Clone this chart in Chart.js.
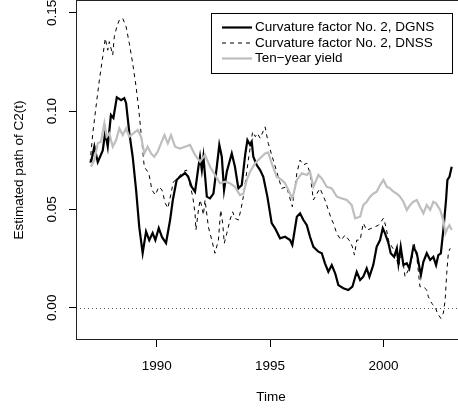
<!DOCTYPE html>
<html>
<head>
<meta charset="utf-8">
<script src="https://cdn.jsdelivr.net/npm/chart.js@4.4.1/dist/chart.umd.min.js"></script>
<style>
    html, body { margin: 0; padding: 0; background: #fff; overflow: hidden; }
    #wrap { width: 458px; height: 410px; overflow: hidden; }
</style>
</head>
<body>
<div id="wrap"><canvas id="c2Chart" width="470" height="410"></canvas></div>
<script>
// tick positions
const xTicks = [1990, 1995, 2000];
const yTicks = [0, 0.05, 0.10, 0.15];
const zeroLevel = 0;

const seriesNames = ['Curvature factor No. 2, DGNS', 'Curvature factor No. 2, DNSS', 'Ten\u2212year yield'];

// curvature factor, DGNS
const dgnsTime = [1987.10, 1987.25, 1987.40, 1987.62, 1987.73, 1987.84, 1987.98, 1988.09, 1988.24, 1988.43,
    1988.57, 1988.65, 1988.79, 1988.94, 1989.09, 1989.23, 1989.38, 1989.53, 1989.67, 1989.82,
    1989.94, 1990.09, 1990.23, 1990.41, 1990.59, 1990.71, 1990.88, 1991.03, 1991.25, 1991.39,
    1991.54, 1991.69, 1991.84, 1991.91, 1991.99, 1992.06, 1992.21, 1992.35, 1992.50, 1992.65,
    1992.76, 1992.87, 1992.97, 1993.09, 1993.31, 1993.45, 1993.60, 1993.75, 1993.90, 1994.00,
    1994.12, 1994.19, 1994.26, 1994.41, 1994.56, 1994.70, 1994.88, 1995.07, 1995.22, 1995.44,
    1995.66, 1995.88, 1995.98, 1996.18, 1996.32, 1996.47, 1996.62, 1996.76, 1996.91, 1997.13,
    1997.28, 1997.42, 1997.57, 1997.72, 1997.87, 1998.01, 1998.23, 1998.45, 1998.63, 1998.82,
    1998.97, 1999.11, 1999.26, 1999.38, 1999.55, 1999.70, 1999.85, 1999.97, 2000.07, 2000.22,
    2000.32, 2000.47, 2000.59, 2000.66, 2000.76, 2000.88, 2001.03, 2001.14, 2001.32, 2001.47,
    2001.65, 2001.76, 2001.91, 2002.06, 2002.20, 2002.32, 2002.42, 2002.53, 2002.64, 2002.76,
    2002.82, 2002.91, 2003.01];
const dgnsValue = [0.074, 0.082, 0.074, 0.080, 0.0895, 0.082, 0.098, 0.0965, 0.107, 0.1056,
    0.1066, 0.104, 0.089, 0.0768, 0.060, 0.041, 0.0278, 0.0387, 0.0344, 0.038,
    0.0344, 0.0405, 0.036, 0.0329, 0.0446, 0.0548, 0.065, 0.0666, 0.0685, 0.0666,
    0.0615, 0.059, 0.0717, 0.0768, 0.070, 0.0768, 0.0565, 0.0556, 0.058, 0.0717,
    0.0828, 0.0768, 0.0599, 0.0692, 0.0785, 0.0717, 0.0607, 0.0624, 0.0777, 0.0853,
    0.0828, 0.0844, 0.0768, 0.0726, 0.070, 0.0666, 0.0565, 0.043, 0.0404, 0.0353,
    0.0361, 0.0344, 0.0319, 0.0463, 0.048, 0.0446, 0.042, 0.0361, 0.031, 0.0285,
    0.0277, 0.0226, 0.0183, 0.0217, 0.0175, 0.0115, 0.0099, 0.009, 0.0107, 0.0183,
    0.0141, 0.0158, 0.020, 0.0158, 0.0217, 0.031, 0.0344, 0.0404, 0.0378, 0.0328,
    0.0277, 0.0259, 0.0302, 0.0226, 0.031, 0.0217, 0.0226, 0.020, 0.031, 0.0277,
    0.0166, 0.0234, 0.0277, 0.0243, 0.0259, 0.0217, 0.0268, 0.0277, 0.0395, 0.0548,
    0.065, 0.0666, 0.0717];

// curvature factor, DNSS
const dnssTime = [1987.06, 1987.18, 1987.32, 1987.47, 1987.62, 1987.73, 1987.84, 1987.91, 1988.06, 1988.13,
    1988.24, 1988.35, 1988.50, 1988.65, 1988.79, 1988.94, 1989.09, 1989.21, 1989.31, 1989.45,
    1989.65, 1989.79, 1989.94, 1990.09, 1990.23, 1990.38, 1990.49, 1990.63, 1990.73, 1990.85,
    1991.17, 1991.32, 1991.47, 1991.59, 1991.69, 1991.73, 1991.84, 1991.91, 1991.99, 1992.06,
    1992.13, 1992.28, 1992.43, 1992.57, 1992.72, 1992.82, 1992.91, 1992.98, 1993.09, 1993.23,
    1993.35, 1993.45, 1993.60, 1993.71, 1993.82, 1993.94, 1994.04, 1994.15, 1994.23, 1994.35,
    1994.44, 1994.56, 1994.78, 1994.92, 1995.14, 1995.36, 1995.51, 1995.73, 1995.98, 1996.18,
    1996.32, 1996.47, 1996.62, 1996.76, 1996.91, 1997.06, 1997.20, 1997.42, 1997.57, 1997.69,
    1997.79, 1997.94, 1998.13, 1998.31, 1998.53, 1998.63, 1998.72, 1998.82, 1998.97, 1999.11,
    1999.26, 1999.48, 1999.63, 1999.78, 2000.00, 2000.11, 2000.22, 2000.37, 2000.51, 2000.66,
    2000.81, 2000.95, 2001.10, 2001.25, 2001.35, 2001.47, 2001.61, 2001.76, 2001.91, 2001.98,
    2002.13, 2002.28, 2002.38, 2002.53, 2002.64, 2002.72, 2002.79, 2002.86, 2002.94];
const dnssValue = [0.0736, 0.0887, 0.102, 0.1158, 0.1277, 0.137, 0.131, 0.1353, 0.1285, 0.1378,
    0.1429, 0.1463, 0.1472, 0.1429, 0.1345, 0.1243, 0.1124, 0.1006, 0.0887, 0.0717,
    0.0684, 0.0599, 0.0573, 0.0615, 0.0599, 0.0531, 0.0506, 0.058, 0.064, 0.065,
    0.0692, 0.070, 0.0624, 0.0565, 0.048, 0.0395, 0.0497, 0.0548, 0.0514, 0.0472,
    0.0548, 0.041, 0.0344, 0.0277, 0.0344, 0.0497, 0.043, 0.0328, 0.0378, 0.0446,
    0.0488, 0.0455, 0.0446, 0.0497, 0.0565, 0.0666, 0.0751, 0.0836, 0.0895, 0.087,
    0.0887, 0.0862, 0.092, 0.0836, 0.0751, 0.0666, 0.0607, 0.0615, 0.0514, 0.0684,
    0.0751, 0.0726, 0.0735, 0.0684, 0.0548, 0.058, 0.0607, 0.0548, 0.0497, 0.0455,
    0.043, 0.0378, 0.0344, 0.037, 0.0336, 0.031, 0.0268, 0.0344, 0.0344, 0.043,
    0.0395, 0.0404, 0.0412, 0.042, 0.0455, 0.0412, 0.0344, 0.031, 0.0285, 0.0209,
    0.0277, 0.0158, 0.0192, 0.0243, 0.0328, 0.0259, 0.0107, 0.0107, 0.009, 0.0056,
    0.0022, 0.0005, -0.0028, -0.0054, -0.0028, 0.0039, 0.0175, 0.0277, 0.0302];

// ten-year yield
const yieldTime = [1987.10, 1987.25, 1987.40, 1987.54, 1987.69, 1987.79, 1987.91, 1988.06, 1988.21, 1988.35,
    1988.50, 1988.65, 1988.79, 1988.97, 1989.16, 1989.31, 1989.45, 1989.60, 1989.75, 1989.89,
    1990.04, 1990.19, 1990.34, 1990.49, 1990.63, 1990.81, 1991.03, 1991.25, 1991.47, 1991.69,
    1991.91, 1992.13, 1992.35, 1992.57, 1992.79, 1993.01, 1993.23, 1993.45, 1993.67, 1993.82,
    1993.97, 1994.12, 1994.34, 1994.56, 1994.78, 1994.92, 1995.07, 1995.29, 1995.51, 1995.66,
    1995.80, 1995.98, 1996.18, 1996.40, 1996.62, 1996.76, 1996.91, 1997.13, 1997.28, 1997.50,
    1997.72, 1997.94, 1998.16, 1998.38, 1998.60, 1998.75, 1998.97, 1999.11, 1999.26, 1999.41,
    1999.55, 1999.70, 1999.85, 2000.00, 2000.15, 2000.29, 2000.44, 2000.59, 2000.73, 2000.88,
    2001.03, 2001.17, 2001.32, 2001.47, 2001.61, 2001.76, 2001.91, 2002.06, 2002.20, 2002.32,
    2002.50, 2002.64, 2002.73, 2002.82, 2002.91, 2003.01];
const yieldValue = [0.0717, 0.0751, 0.0836, 0.0844, 0.0938, 0.087, 0.0887, 0.0819, 0.0853, 0.0912,
    0.0878, 0.0912, 0.087, 0.0887, 0.0904, 0.087, 0.0785, 0.0819, 0.0785, 0.0768,
    0.0793, 0.0836, 0.0878, 0.0836, 0.0878, 0.0819, 0.081, 0.0819, 0.0828, 0.0777,
    0.0743, 0.0777, 0.0717, 0.0675, 0.0633, 0.0641, 0.0633, 0.0615, 0.0573, 0.058,
    0.065, 0.0692, 0.0735, 0.076, 0.0785, 0.079, 0.0735, 0.0666, 0.065, 0.0633,
    0.060, 0.0556, 0.065, 0.0684, 0.0675, 0.0692, 0.0615, 0.0675, 0.0658, 0.0615,
    0.0607, 0.0565, 0.0556, 0.0548, 0.0522, 0.0455, 0.0463, 0.0522, 0.0539, 0.0565,
    0.058, 0.059, 0.0624, 0.065, 0.0615, 0.0607, 0.059, 0.058, 0.0565, 0.0539,
    0.0497, 0.0522, 0.0539, 0.0548, 0.0514, 0.048, 0.0522, 0.0497, 0.0539, 0.0531,
    0.0497, 0.0446, 0.0378, 0.0404, 0.042, 0.0395];

function toPoints(times, values) {
    return times.map((t, i) => ({ x: t, y: values[i] }));
}

const fontFamily = '"Liberation Sans", Arial, Helvetica, sans-serif';
const fontSize = 13.5;
Chart.defaults.font.family = fontFamily;
Chart.defaults.font.size = fontSize;
Chart.defaults.color = '#000';

// box around the plot, dotted zero line, rotated y labels and the legend
const rPlotExtras = {
    id: 'rPlotExtras',
    beforeDatasetsDraw(chart) {
        const { ctx, chartArea, scales } = chart;
        const y0 = scales.y.getPixelForValue(zeroLevel);
        ctx.save();
        ctx.strokeStyle = '#555';
        ctx.lineWidth = 1;
        ctx.setLineDash([1, 3]);
        ctx.beginPath();
        ctx.moveTo(chartArea.left, Math.round(y0) + 0.5);
        ctx.lineTo(chartArea.right, Math.round(y0) + 0.5);
        ctx.stroke();
        ctx.restore();
    },
    afterDraw(chart) {
        const { ctx, chartArea, scales } = chart;
        ctx.save();
        // frame
        ctx.strokeStyle = '#222';
        ctx.lineWidth = 1;
        ctx.strokeRect(Math.round(chartArea.left) + 0.5, Math.round(chartArea.top) + 0.5,
            Math.round(chartArea.right - chartArea.left), Math.round(chartArea.bottom - chartArea.top) - 1);

        // y tick labels, written upwards like R does
        ctx.fillStyle = '#000';
        ctx.font = fontSize + 'px ' + fontFamily;
        ctx.textAlign = 'center';
        ctx.textBaseline = 'middle';
        scales.y.ticks.forEach(t => {
            const py = scales.y.getPixelForValue(t.value);
            ctx.save();
            ctx.translate(52, py);
            ctx.rotate(-Math.PI / 2);
            ctx.fillText(t.value.toFixed(2), 0, 0);
            ctx.restore();
        });

        // legend
        const box = { left: 211, top: 13, width: 241, height: 60 };
        ctx.fillStyle = '#fff';
        ctx.fillRect(box.left, box.top, box.width, box.height);
        ctx.strokeStyle = '#000';
        ctx.strokeRect(box.left + 0.5, box.top + 0.5, box.width, box.height);
        chart.data.datasets.forEach((ds, i) => {
            const ry = box.top + 14.5 + i * 15.5;
            ctx.strokeStyle = ds.borderColor;
            ctx.lineWidth = ds.borderWidth;
            ctx.setLineDash(ds.borderDash || []);
            ctx.beginPath();
            ctx.moveTo(222, ry);
            ctx.lineTo(252, ry);
            ctx.stroke();
            ctx.setLineDash([]);
            ctx.fillStyle = '#000';
            ctx.textAlign = 'left';
            ctx.fillText(ds.label, 255, ry);
        });
        ctx.restore();
    }
};

const ctx = document.getElementById('c2Chart').getContext('2d');
const c2Chart = new Chart(ctx, {
    type: 'line',
    data: {
        datasets: [{
            label: seriesNames[0],
            data: toPoints(dgnsTime, dgnsValue),
            borderColor: '#000',
            borderWidth: 2.2,
            order: 3
        }, {
            label: seriesNames[1],
            data: toPoints(dnssTime, dnssValue),
            borderColor: '#000',
            borderWidth: 1,
            borderDash: [4, 4],
            order: 2
        }, {
            label: seriesNames[2],
            data: toPoints(yieldTime, yieldValue),
            borderColor: '#bebebe',
            borderWidth: 2.2,
            order: 1
        }]
    },
    options: {
        responsive: false,
        animation: false,
        devicePixelRatio: 1,
        layout: { padding: { left: 0, right: 4, top: 0, bottom: 0 } },
        elements: {
            point: { radius: 0 },
            line: { tension: 0, fill: false }
        },
        plugins: {
            legend: { display: false },
            tooltip: { enabled: false }
        },
        scales: {
            x: {
                type: 'linear',
                min: 1986.44,
                max: 2003.64,
                afterBuildTicks: scale => { scale.ticks = xTicks.map(v => ({ value: v })); },
                afterFit: scale => { scale.height = 70; },
                ticks: {
                    padding: 11,
                    maxRotation: 0,
                    callback: v => String(v)
                },
                grid: { drawOnChartArea: false, drawTicks: true, tickLength: 7, color: '#000' },
                border: { display: false },
                title: { display: true, text: 'Time', padding: { top: 0, bottom: 5 } }
            },
            y: {
                type: 'linear',
                min: -0.0164,
                max: 0.1565,
                afterBuildTicks: scale => { scale.ticks = yTicks.map(v => ({ value: v })); },
                afterFit: scale => { scale.width = 76; },
                ticks: { display: false },
                grid: { drawOnChartArea: false, drawTicks: true, tickLength: 7, color: '#000' },
                border: { display: false },
                title: { display: true, text: 'Estimated path of C2(t)', padding: { top: 11, bottom: 0 } }
            }
        }
    },
    plugins: [rPlotExtras]
});
</script>
</body>
</html>
